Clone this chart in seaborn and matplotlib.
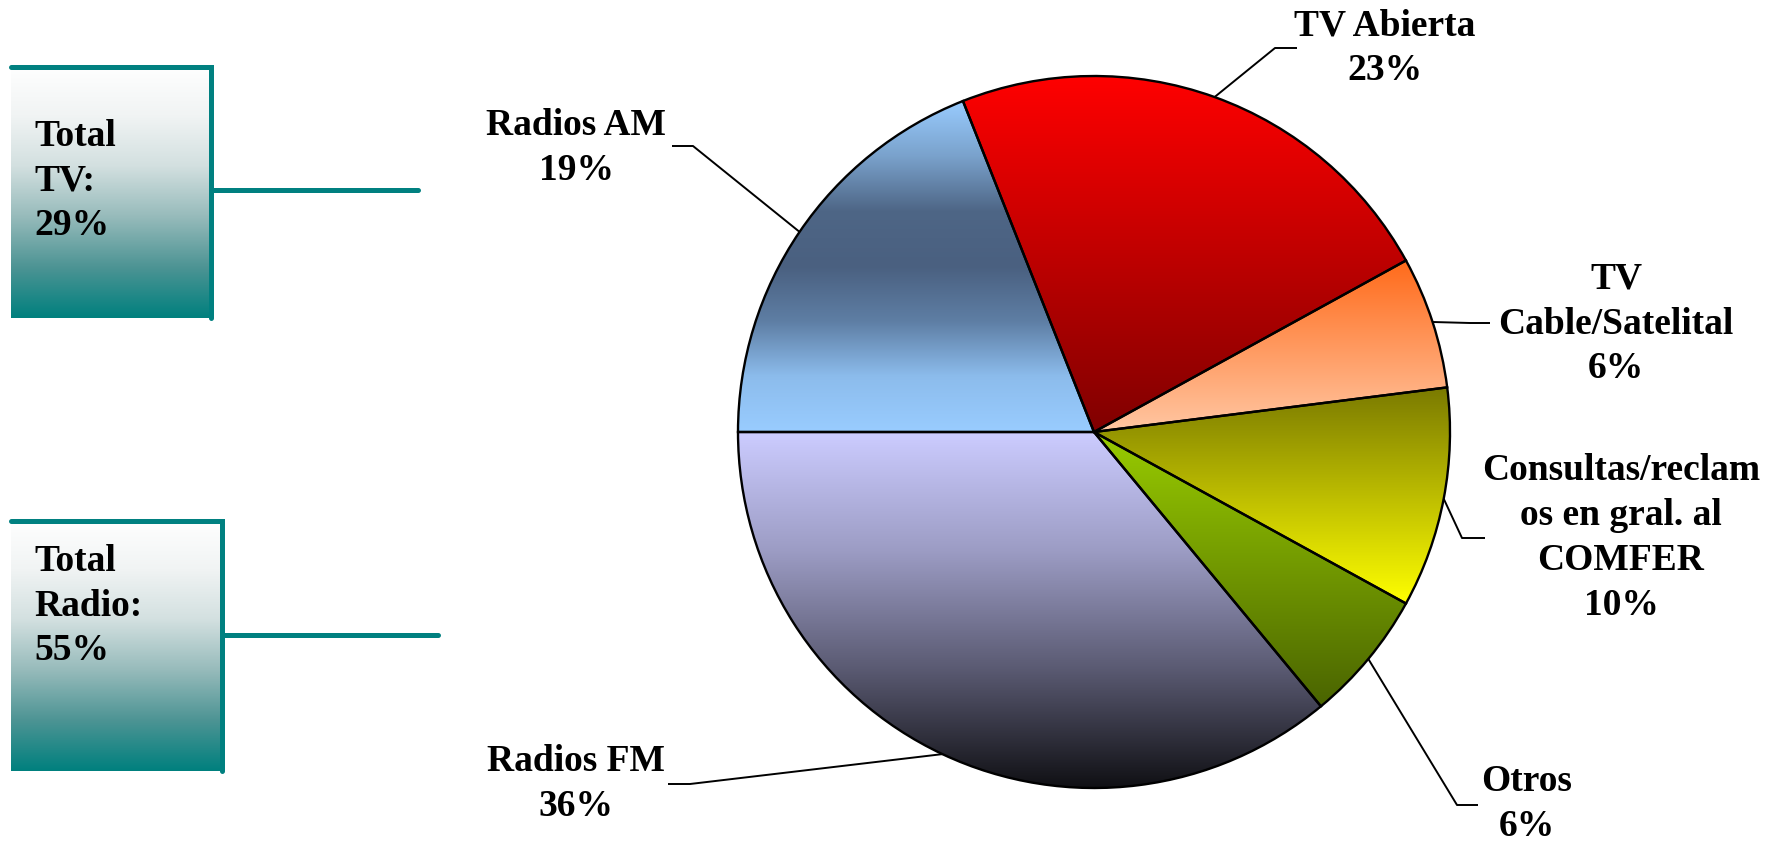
import numpy as np
import seaborn as sns
import matplotlib.pyplot as plt
from matplotlib.colors import LinearSegmentedColormap
from matplotlib.patches import Rectangle

# data
categories = ["Radios AM", "TV Abierta", "TV\nCable/Satelital",
              "Consultas/reclam\nos en gral. al\nCOMFER", "Otros", "Radios FM"]
shares = [19, 23, 6, 10, 6, 36]
tv_items = ["TV Abierta", "TV\nCable/Satelital"]
radio_items = ["Radios AM", "Radios FM"]

# gradient colours for each slice, top to bottom
slice_grads = [
    ["#99CCFF", "#7AA2CC", "#4E6686", "#4A6080", "#5E7EA4", "#8CBCEC", "#99CCFF"],
    ["#FF0000", "#800000"],
    ["#FF6A1A", "#FFC7A3"],
    ["#7A7A00", "#FFFF00"],
    ["#99CC00", "#4A6400"],
    ["#CCCCFF", "#9C9CC4", "#5A5A72", "#101014"],
]
box_grad = ["#FFFFFF", "#F1F4F4", "#D3E0E0", "#97BBBB", "#4D9494", "#00807E"]
teal = "#008080"

W, H = 1778, 846
def py(y):
    return H - y

sns.set_theme(style="white")
plt.rcParams["font.family"] = ["Liberation Serif", "DejaVu Serif"]
plt.rcParams["text.color"] = "black"

fig = plt.figure(figsize=(W / 100, H / 100), dpi=100)
ax = fig.add_axes([0, 0, 1, 1])

cx, cy, r = 1094, py(432), 356
wedges, _ = ax.pie(shares, startangle=180, counterclock=False,
                   center=(cx, cy), radius=r, frame=True,
                   wedgeprops=dict(edgecolor="black", linewidth=1.7))

for w, cols in zip(wedges, slice_grads):
    bb = w.get_path().get_extents()
    cmap = LinearSegmentedColormap.from_list("g", cols)
    grad = cmap(np.linspace(0, 1, 256))[:, None, :3]
    im = ax.imshow(grad, extent=(bb.x0, bb.x1, bb.y0, bb.y1), origin="upper",
                   aspect="auto", interpolation="bilinear", zorder=1)
    im.set_clip_path(w)
    w.set_facecolor("none")
    w.set_zorder(2)

# labels with leader lines (elbow, end, text centre in pixel coords)
layout = [
    ((693, 146), (672, 146), (576, 148)),
    ((1275, 48), (1297, 48), (1385, 48)),
    ((1470, 323), (1490, 323), (1616, 324)),
    ((1462, 538), (1485, 538), (1621, 538)),
    ((1457, 805), (1478, 805), (1527, 804)),
    ((690, 784), (668, 784), (576, 784)),
]
for w, name, val, (elb, end, txt) in zip(wedges, categories, shares, layout):
    mid = np.deg2rad((w.theta1 + w.theta2) / 2)
    x0, y0 = cx + r * np.cos(mid), cy + r * np.sin(mid)
    ax.plot([x0, elb[0], end[0]], [y0, py(elb[1]), py(end[1])],
            color="black", lw=1.4, zorder=3, solid_capstyle="butt")
    ax.text(txt[0], py(txt[1]), f"{name}\n{val:.0f}%", ha="center", va="center",
            fontsize=27, fontweight="bold", linespacing=1.36, color="black",
            zorder=4)

# total boxes
tv_total = sum(v for c, v in zip(categories, shares) if c in tv_items)
radio_total = sum(v for c, v in zip(categories, shares) if c in radio_items)
boxes = [
    ("Total\nTV:\n%d%%" % tv_total, (11, 64, 213, 318), 190, 418, 181),
    ("Total\nRadio:\n%d%%" % radio_total, (11, 518, 224, 771), 635, 438, 606),
]
bcmap = LinearSegmentedColormap.from_list("b", box_grad)
bgrad = bcmap(np.linspace(0, 1, 256))[:, None, :3]
for text, (x0, y0, x1, y1), ly, lx, ty in boxes:
    rect = Rectangle((x0, py(y1)), x1 - x0, y1 - y0, facecolor="none",
                     edgecolor="none", zorder=2)
    ax.add_patch(rect)
    im = ax.imshow(bgrad, extent=(x0, x1, py(y1), py(y0)), origin="upper",
                   aspect="auto", interpolation="bilinear", zorder=1)
    im.set_clip_path(rect)
    ax.plot([x0, x1 - 2.5, x1 - 2.5], [py(y0 + 2.5), py(y0 + 2.5), py(y1)],
            color=teal, lw=3.6, zorder=3, solid_joinstyle="miter")
    ax.plot([x1, lx], [py(ly), py(ly)], color=teal, lw=3.6, zorder=3,
            solid_capstyle="round")
    ax.text(34, py(ty), text, ha="left", va="center", fontsize=27,
            fontweight="bold", linespacing=1.36, color="black", zorder=4)

ax.set_xlim(0, W)
ax.set_ylim(0, H)
ax.set_aspect("auto")
ax.axis("off")

fig.savefig("out.png", dpi=100, facecolor="white")
